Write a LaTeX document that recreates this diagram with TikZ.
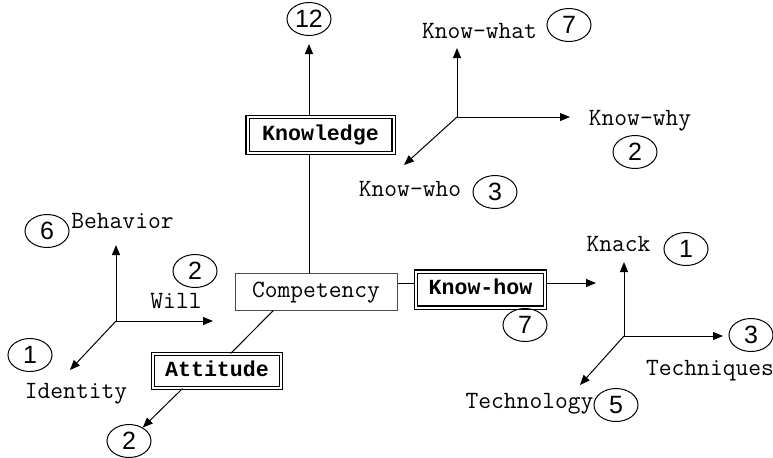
\documentclass[tikz,border=0pt]{standalone}
\usepackage{fontspec}
\setmainfont{Liberation Serif}
\newfontfamily\numfont{Liberation Sans}
\newfontfamily\keyfont{Liberation Mono}
\usetikzlibrary{arrows.meta,shapes.geometric}
\begin{document}
\begin{tikzpicture}[x=0.5pt,y=-0.5pt]
	\tikzstyle{lbl}=[font=\ttfamily\fontsize{12.4}{13}\selectfont, inner sep=0pt, text height=8pt, text depth=2pt]
	\tikzstyle{key}=[draw, double, double distance=1pt, line width=0.6pt, inner sep=0pt, minimum height=18pt, font=\keyfont\bfseries\fontsize{10.8}{12}\selectfont, text height=7pt, text depth=2pt]
	\tikzstyle{core}=[draw=black!70, line width=0.5pt, inner sep=0pt, minimum width=81pt, minimum height=18.5pt, font=\ttfamily\fontsize{12.4}{13}\selectfont, text height=8pt, text depth=2pt]
	\tikzstyle{num}=[ellipse, draw, line width=0.5pt, inner sep=0pt, minimum width=22pt, minimum height=16.5pt, font=\numfont\fontsize{12.5}{13}\selectfont]
	\tikzstyle{arr}=[-{Triangle[length=5pt,width=4pt]}, line width=0.5pt]
	\tikzstyle{ln}=[line width=0.5pt]

	\useasboundingbox (0,0) rectangle (773,457);

	% centre
	\node[core] (comp) at (316, 291.5) {Competency};
	\node[key, minimum width=73pt] (know) at (320.5, 135) {Knowledge};
	\node[key, minimum width=64.5pt] (how) at (480.5, 289.5) {Know-how};
	\node[key, minimum width=64pt, minimum height=17pt] (att) at (217, 371) {Attitude};

	\node[num] (n12) at (309, 19) {12};
	\node[num] (n7h) at (525, 325) {7};
	\node[num] (n2a) at (129, 441) {2};
	\coordinate (howtip) at (596, 283);

	\draw[arr, shorten >=4pt] (know.north -| n12) -- (n12.south);
	\draw[ln] (know.south -| n12) -- (comp.north -| n12);
	\draw[ln] (comp.204) -- (att.52);
	\draw[arr] (att.207) -- (n2a);
	\draw[ln] ([yshift=4pt]comp.east) -- ([yshift=4pt]comp.east -| how.west);
	\draw[arr] (how.east |- howtip) -- (howtip);

	% know-what / why / who
	\coordinate (kO) at (457, 117);
	\coordinate (kUp) at (457, 48);
	\coordinate (kRt) at (570, 117);
	\coordinate (kDn) at (404, 165);
	\node[lbl] (what) at (479.5, 32) {Know-what};
	\node[num] (n7w) at (569, 25) {7};
	\node[lbl] (why) at (640, 119) {Know-why};
	\node[num] (n2y) at (635, 152) {2};
	\node[lbl] (who) at (410, 190) {Know-who};
	\node[num] (n3o) at (495, 192) {3};
	\draw[arr] (kO) -- (kUp);
	\draw[arr] (kO) -- (kRt);
	\draw[arr] (kO) -- (kDn);

	% knack / techniques / technology
	\coordinate (hO) at (624, 336);
	\coordinate (hUp) at (624, 262);
	\coordinate (hRt) at (723, 336);
	\coordinate (hDn) at (580, 385);
	\node[lbl] (knack) at (618.5, 245) {Knack};
	\node[num] (n1k) at (686, 249) {1};
	\node[lbl] (tech) at (710, 369) {Techniques};
	\node[num] (n3t) at (751, 335) {3};
	\node[lbl] (techno) at (529.5, 402) {Technology};
	\node[num] (n5) at (616, 405) {5};
	\draw[arr] (hO) -- (hUp);
	\draw[arr] (hO) -- (hRt);
	\draw[arr] (hO) -- (hDn);

	% behavior / will / identity
	\coordinate (aO) at (116, 321);
	\coordinate (aUp) at (116, 245);
	\coordinate (aRt) at (213, 321);
	\coordinate (aDn) at (70, 370);
	\node[lbl] (beh) at (122.5, 222) {Behavior};
	\node[num] (n6) at (47, 231) {6};
	\node[lbl] (will) at (176, 302) {Will};
	\node[num] (n2w) at (195, 271) {2};
	\node[lbl] (ident) at (76, 392) {Identity};
	\node[num] (n1i) at (30, 355) {1};
	\draw[arr] (aO) -- (aUp);
	\draw[arr] (aO) -- (aRt);
	\draw[arr] (aO) -- (aDn);
\end{tikzpicture}
\end{document}
